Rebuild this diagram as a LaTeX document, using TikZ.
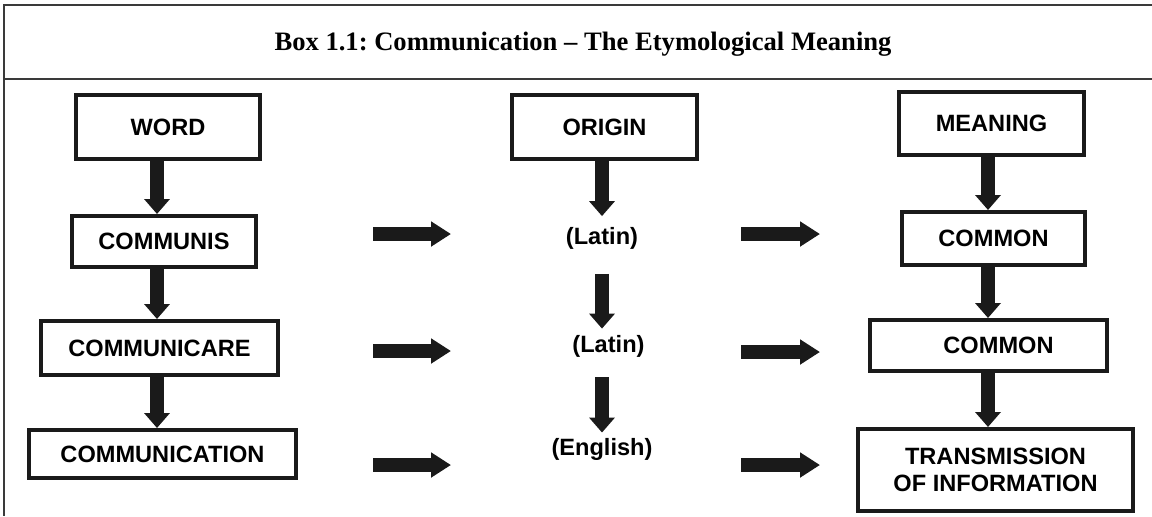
\documentclass[tikz,border=0pt]{standalone}
\usepackage{fontspec}
\setmainfont{Liberation Serif}
\newfontfamily\arialfont{Liberation Sans}
\usetikzlibrary{arrows.meta}
\definecolor{ink}{HTML}{1A1A1A}
\definecolor{framegray}{HTML}{3A3A3A}
\frenchspacing
\begin{document}
\begin{tikzpicture}[x=0.5pt,y=-0.5pt,
  wbox/.style={draw=ink, line width=2pt, fill=white, font=\arialfont\bfseries\fontsize{11.8}{13.5}\selectfont, inner sep=0pt, align=center},
  lbl/.style={font=\arialfont\bfseries\fontsize{11.8}{13.5}\selectfont, inner sep=0pt},
  varrow/.style={draw=ink, line width=7pt, -{Triangle[width=12.5pt,length=7.5pt]}},
  harrow/.style={draw=ink, line width=7pt, -{Triangle[width=12pt,length=10pt]}},
  framerule/.style={draw=framegray, line width=1pt}]
\useasboundingbox (0,0) rectangle (1152,516);
% frame
\coordinate (ftl) at (4,5);
\coordinate (ftr) at (1152,5);
\coordinate (fml) at (4,79);
\coordinate (fmr) at (1152,79);
\coordinate (fbl) at (4,516);
\draw[framerule] (ftr) -- (ftl) -- (fbl);
\draw[framerule] (fml) -- (fmr);
\node[anchor=base, inner sep=0pt, font=\bfseries\fontsize{13.3}{16}\selectfont] (title) at (583,50) {Box 1.1: Communication -- The Etymological Meaning};
% left column
\node[wbox, minimum width=92pt, minimum height=32pt] (word) at (168,127) {WORD};
\node[wbox, minimum width=92pt, minimum height=25.5pt] (communis) at (164,241.5) {COMMUNIS};
\node[wbox, minimum width=118.5pt, minimum height=27pt] (communicare) at (159.5,348) {COMMUNICARE};
\node[wbox, minimum width=133.5pt, minimum height=24pt] (communication) at (162.5,454) {COMMUNICATION};
% middle column
\node[wbox, minimum width=92.5pt, minimum height=32pt] (origin) at (604.5,127) {ORIGIN};
\node[lbl] (latin1) at (602,238.5) {(Latin)};
\node[lbl] (latin2) at (608.5,346) {(Latin)};
\node[lbl] (english) at (602,449) {(English)};
% right column
\node[wbox, minimum width=92.5pt, minimum height=31.5pt] (meaning) at (991.5,123.5) {MEANING};
\node[wbox, minimum width=91.5pt, minimum height=26.5pt] (common1) at (993.5,238.5) {COMMON};
\node[wbox, minimum width=118.5pt, minimum height=25.5pt] (common2) at (988.5,345.5) {\hspace*{10pt}COMMON};
\node[wbox, minimum width=137.5pt, minimum height=41pt] (trans) at (995.5,470) {TRANSMISSION\\OF INFORMATION};
% arrow columns
\coordinate (lx) at (157,0);
\coordinate (mx) at (602,0);
\coordinate (rx) at (988,0);
\draw[varrow] (word.south -| lx) -- (communis.north -| lx);
\draw[varrow] (communis.south -| lx) -- (communicare.north -| lx);
\draw[varrow] (communicare.south -| lx) -- (communication.north -| lx);
\draw[varrow, shorten >=5.5pt] (origin.south -| mx) -- (latin1.north -| mx);
\draw[varrow, shorten <=12pt, shorten >=3pt] (latin1.south -| mx) -- (latin2.north -| mx);
\draw[varrow, shorten <=10pt, shorten >=2.5pt] (latin2.south -| mx) -- (english.north -| mx);
\draw[varrow] (meaning.south -| rx) -- (common1.north -| rx);
\draw[varrow] (common1.south -| rx) -- (common2.north -| rx);
\draw[varrow] (common2.south -| rx) -- (trans.north -| rx);
% horizontal arrows
\coordinate (h1a) at (373,234); \coordinate (h1b) at (451,234);
\coordinate (h2a) at (373,351); \coordinate (h2b) at (451,351);
\coordinate (h3a) at (373,465); \coordinate (h3b) at (451,465);
\coordinate (h4a) at (741,234); \coordinate (h4b) at (820,234);
\coordinate (h5a) at (741,352); \coordinate (h5b) at (820,352);
\coordinate (h6a) at (741,465); \coordinate (h6b) at (820,465);
\draw[harrow] (h1a) -- (h1b);
\draw[harrow] (h2a) -- (h2b);
\draw[harrow] (h3a) -- (h3b);
\draw[harrow] (h4a) -- (h4b);
\draw[harrow] (h5a) -- (h5b);
\draw[harrow] (h6a) -- (h6b);
\end{tikzpicture}
\end{document}
